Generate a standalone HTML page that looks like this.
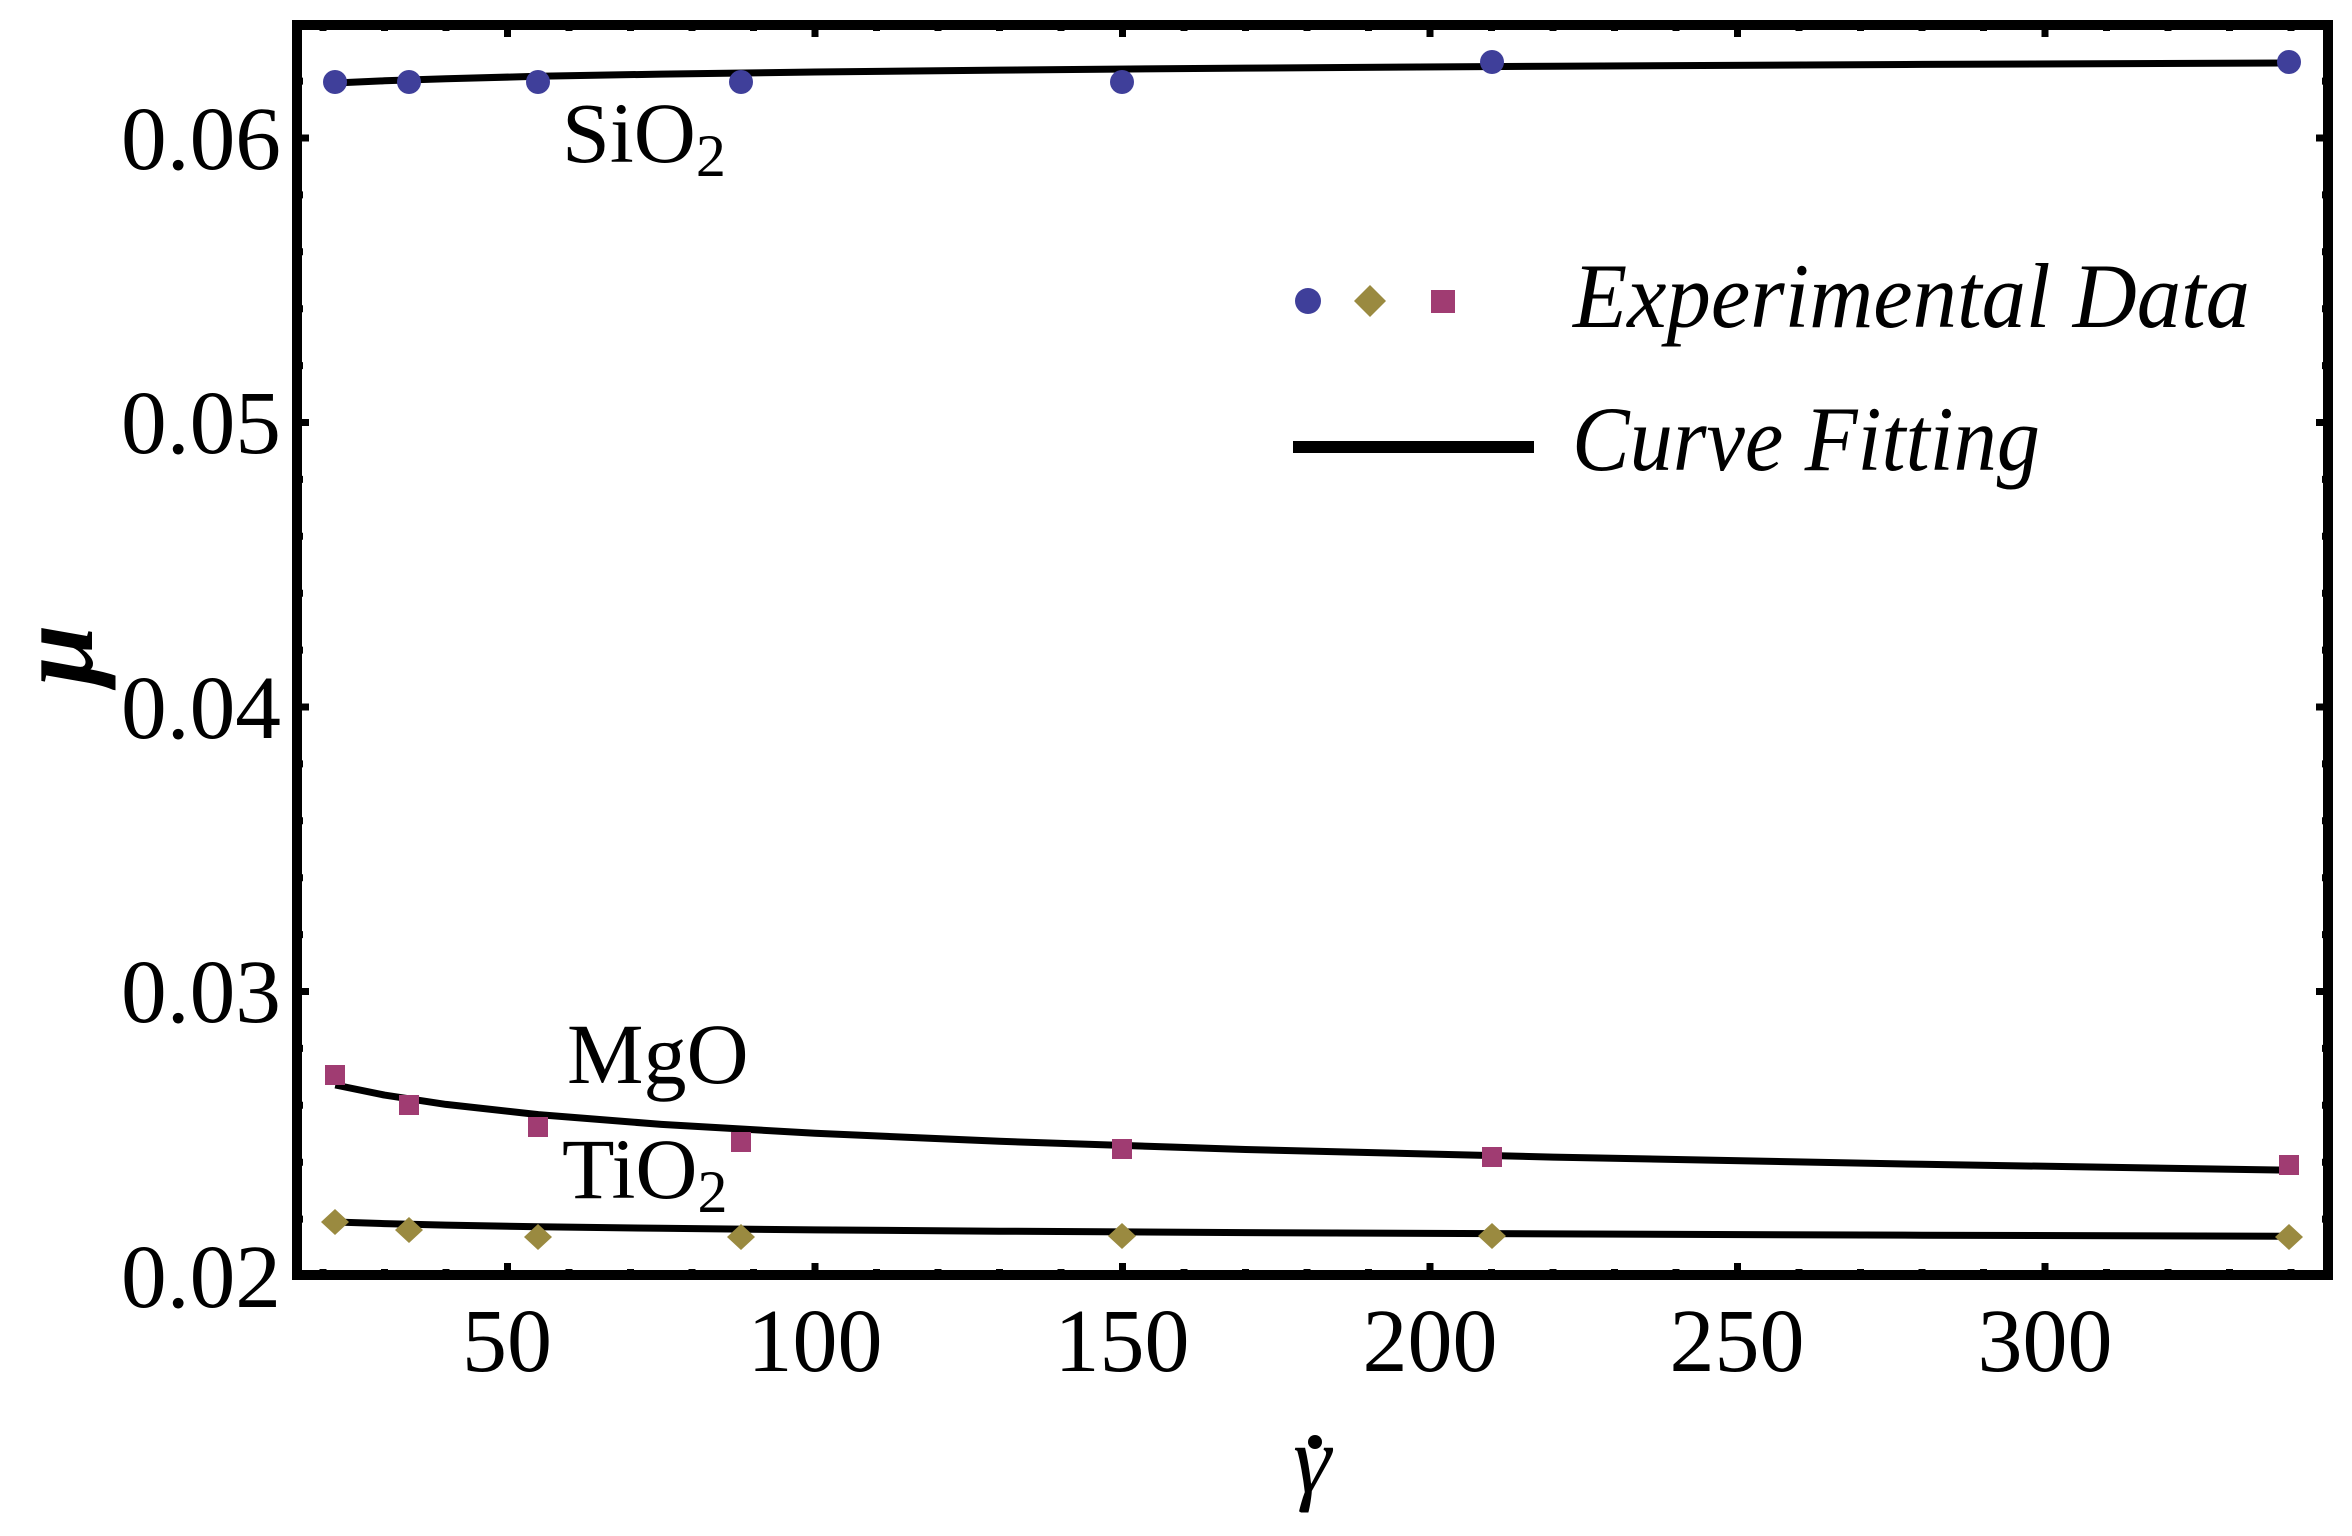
<!DOCTYPE html>
<html><head><meta charset="utf-8"><style>html,body{margin:0;padding:0;background:#fff}svg{display:block}</style></head>
<body>
<svg width="2352" height="1536" viewBox="0 0 2352 1536" xmlns="http://www.w3.org/2000/svg" font-family="Liberation Serif, serif">
<rect width="2352" height="1536" fill="#fff"/>
<g stroke="#000" stroke-width="7" fill="none">
<path d="M323,1275v-6M384.5,1275v-6M446,1275v-6M507.5,1275v-12M569,1275v-6M630.5,1275v-6M692,1275v-6M753.5,1275v-6M815,1275v-12M876.5,1275v-6M938,1275v-6M999.5,1275v-6M1061,1275v-6M1122.5,1275v-12M1184,1275v-6M1245.5,1275v-6M1307,1275v-6M1368.5,1275v-6M1430,1275v-12M1491.5,1275v-6M1553,1275v-6M1614.5,1275v-6M1676,1275v-6M1737.5,1275v-12M1799,1275v-6M1860.5,1275v-6M1922,1275v-6M1983.5,1275v-6M2045,1275v-12M2106.5,1275v-6M2168,1275v-6M2229.5,1275v-6M2291,1275v-6"/>
<path d="M323,25v6M384.5,25v6M446,25v6M507.5,25v12M569,25v6M630.5,25v6M692,25v6M753.5,25v6M815,25v12M876.5,25v6M938,25v6M999.5,25v6M1061,25v6M1122.5,25v12M1184,25v6M1245.5,25v6M1307,25v6M1368.5,25v6M1430,25v12M1491.5,25v6M1553,25v6M1614.5,25v6M1676,25v6M1737.5,25v12M1799,25v6M1860.5,25v6M1922,25v6M1983.5,25v6M2045,25v12M2106.5,25v6M2168,25v6M2229.5,25v6M2291,25v6"/>
<path d="M297,1219.1h6M297,1162.2h6M297,1105.3h6M297,1048.4h6M297,991.5h12M297,934.6h6M297,877.7h6M297,820.8h6M297,763.9h6M297,707h12M297,650.1h6M297,593.2h6M297,536.3h6M297,479.4h6M297,422.5h12M297,365.6h6M297,308.7h6M297,251.8h6M297,194.9h6M297,138h12M297,81.1h6"/>
<path d="M2328,1219.1h-6M2328,1162.2h-6M2328,1105.3h-6M2328,1048.4h-6M2328,991.5h-12M2328,934.6h-6M2328,877.7h-6M2328,820.8h-6M2328,763.9h-6M2328,707h-12M2328,650.1h-6M2328,593.2h-6M2328,536.3h-6M2328,479.4h-6M2328,422.5h-12M2328,365.6h-6M2328,308.7h-6M2328,251.8h-6M2328,194.9h-6M2328,138h-12M2328,81.1h-6"/>
</g>
<rect x="297" y="25" width="2031" height="1250" fill="none" stroke="#000" stroke-width="10"/>
<g fill="none" stroke="#000" stroke-width="7" stroke-linejoin="round">
<polyline points="335.3,83 384.5,80.8 446,78.7 538.3,76.3 661.3,74.1 815,72 999.5,70.1 1245.5,68.1 1553,66.2 1922,64.4 2284.9,63"/>
<polyline points="335.3,1085 384.5,1095.1 446,1104.4 538.3,1114.6 661.3,1124.4 815,1133.3 999.5,1141.3 1245.5,1149.5 1553,1157.1 1922,1164.3 2284.9,1170.1"/>
<polyline points="335.3,1222 384.5,1223.6 446,1225.1 538.3,1226.8 661.3,1228.3 815,1229.9 999.5,1231.2 1245.5,1232.6 1553,1233.9 1922,1235.2 2284.9,1236.2"/>
</g>
<g fill="#3f3f9a">
<circle cx="335" cy="82" r="12"/><circle cx="409" cy="82" r="12"/><circle cx="538" cy="82" r="12"/><circle cx="741" cy="82" r="12"/><circle cx="1122" cy="82" r="12"/><circle cx="1492" cy="62" r="12"/><circle cx="2289" cy="62" r="12"/>
</g>
<g fill="#a03c72">
<rect x="325" y="1065" width="20" height="20"/><rect x="399" y="1095" width="20" height="20"/><rect x="528" y="1117" width="20" height="20"/><rect x="731" y="1132" width="20" height="20"/><rect x="1112" y="1139" width="20" height="20"/><rect x="1482" y="1147" width="20" height="20"/><rect x="2279" y="1155" width="20" height="20"/>
</g>
<g fill="#9a8a40">
<polygon points="335,1209 349,1222 335,1235 321,1222"/>
<polygon points="409,1217 423,1230 409,1243 395,1230"/>
<polygon points="538,1224 552,1237 538,1250 524,1237"/>
<polygon points="741,1224 755,1237 741,1250 727,1237"/>
<polygon points="1122,1223 1136,1236 1122,1249 1108,1236"/>
<polygon points="1492,1223 1506,1236 1492,1249 1478,1236"/>
<polygon points="2289,1224 2303,1237 2289,1250 2275,1237"/>
</g>
<g font-size="90" text-anchor="end">
<text x="281" y="169" textLength="160" lengthAdjust="spacingAndGlyphs">0.06</text>
<text x="281" y="453" textLength="160" lengthAdjust="spacingAndGlyphs">0.05</text>
<text x="281" y="738" textLength="160" lengthAdjust="spacingAndGlyphs">0.04</text>
<text x="281" y="1022" textLength="160" lengthAdjust="spacingAndGlyphs">0.03</text>
<text x="281" y="1307" textLength="160" lengthAdjust="spacingAndGlyphs">0.02</text>
</g>
<g font-size="90" text-anchor="middle">
<text x="507" y="1371">50</text>
<text x="815" y="1371">100</text>
<text x="1122" y="1371">150</text>
<text x="1430" y="1371">200</text>
<text x="1737" y="1371">250</text>
<text x="2045" y="1371">300</text>
</g>
<text font-size="110" font-style="italic" font-weight="bold" text-anchor="middle" transform="translate(92,655) rotate(-90)">μ</text>
<text x="1312" y="1492" font-size="96" font-style="italic" text-anchor="middle">γ</text>
<circle cx="1315" cy="1442" r="7" fill="#000"/>
<g font-size="86">
<text x="562" y="162">SiO<tspan font-size="60" dy="14">2</tspan></text>
<text x="567" y="1083">MgO</text>
<text x="562" y="1198">TiO<tspan font-size="60" dy="14">2</tspan></text>
</g>
<circle cx="1308" cy="301" r="13" fill="#3f3f9a"/>
<polygon points="1370,285 1386,301 1370,317 1354,301" fill="#9a8a40"/>
<rect x="1431" y="290" width="24" height="23" fill="#a03c72"/>
<line x1="1293" y1="447" x2="1534" y2="447" stroke="#000" stroke-width="12"/>
<g font-size="92" font-style="italic">
<text x="1573" y="327" textLength="677" lengthAdjust="spacingAndGlyphs">Experimental Data</text>
<text x="1572" y="470" textLength="468" lengthAdjust="spacingAndGlyphs">Curve Fitting</text>
</g>
</svg>
</body></html>
